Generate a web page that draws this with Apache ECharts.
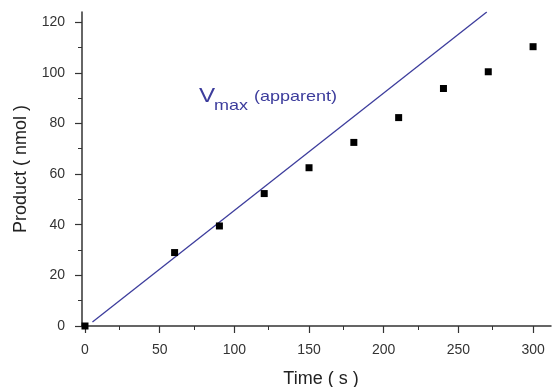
<!DOCTYPE html>
<html>
<head>
<meta charset="utf-8">
<script src="https://cdn.jsdelivr.net/npm/echarts@6/dist/echarts.min.js"></script>
<style>
  html, body { margin: 0; padding: 0; background: #fff; }
  #chart { width: 554px; height: 387px; }
</style>
</head>
<body>
<div id="chart"></div>
<script>
// measured points
var timeS = [0, 60, 90, 120, 150, 180, 210, 240, 270, 300];
var productNmol = [0, 29, 39.5, 52.3, 62.5, 72.5, 82.3, 93.8, 100.4, 110.3];
// apparent Vmax line (two end points)
var vmaxX = [5, 269];
var vmaxY = [1.6, 124];
var xTicks = [0, 50, 100, 150, 200, 250, 300];
var yTicks = [0, 20, 40, 60, 80, 100, 120];

var font = 'Liberation Sans, Arial, sans-serif';
var axisColor = '#333';
var lineColor = '#3c3c9c';

function pairs(xs, ys) {
    return xs.map(function (x, i) { return [x, ys[i]]; });
}

var myChart = echarts.init(document.getElementById('chart'));
var option = {
    backgroundColor: '#fff',
    animation: false,
    grid: {
        left: 82,
        right: 3,
        top: 12,
        bottom: 61,
        outerBoundsMode: 'none'
    },
    xAxis: {
        type: 'value',
        min: -2,
        max: 312,
        interval: 50,
        name: 'Time ( s )',
        nameLocation: 'middle',
        nameGap: 44,
        nameTextStyle: { color: '#222', fontSize: 18, fontFamily: font, padding: [0, 0, 0, 9] },
        axisLine: { show: true, onZero: false, lineStyle: { color: axisColor, width: 1.5 } },
        axisTick: { show: true, inside: false, length: 7, lineStyle: { color: axisColor, width: 1.2 },
            customValues: xTicks },
        minorTick: { show: true, splitNumber: 2, length: 4, lineStyle: { color: axisColor, width: 1 } },
        axisLabel: {
            color: '#333', fontSize: 14, fontFamily: font, margin: 17,
            customValues: xTicks
        },
        splitLine: { show: false }
    },
    yAxis: {
        type: 'value',
        min: 0,
        max: 124,
        interval: 20,
        name: 'Product ( nmol )',
        nameLocation: 'middle',
        nameGap: 52,
        nameTextStyle: { color: '#222', fontSize: 18, fontFamily: font },
        axisLine: { show: true, onZero: false, lineStyle: { color: axisColor, width: 1.5 } },
        axisTick: { show: true, inside: false, length: 7, lineStyle: { color: axisColor, width: 1.2 },
            customValues: yTicks },
        minorTick: { show: true, splitNumber: 2, length: 4, lineStyle: { color: axisColor, width: 1 } },
        axisLabel: {
            color: '#333', fontSize: 14, fontFamily: font, margin: 17,
            customValues: yTicks
        },
        splitLine: { show: false }
    },
    graphic: [
        { type: 'text', x: 199, y: 86, scaleX: 1.15,
          style: { text: 'V', fontSize: 21, fontFamily: font, fill: lineColor, verticalAlign: 'top' } },
        { type: 'text', x: 214, y: 98, scaleX: 1.2,
          style: { text: 'max', fontSize: 15, fontFamily: font, fill: lineColor, verticalAlign: 'top' } },
        { type: 'text', x: 254, y: 89, scaleX: 1.2,
          style: { text: '(apparent)', fontSize: 15, fontFamily: font, fill: lineColor, verticalAlign: 'top' } }
    ],
    series: [
        {
            type: 'line',
            data: pairs(vmaxX, vmaxY),
            showSymbol: false,
            symbol: 'none',
            lineStyle: { color: lineColor, width: 1.3 },
            z: 2
        },
        {
            type: 'scatter',
            data: pairs(timeS, productNmol),
            symbol: 'rect',
            symbolSize: 7,
            itemStyle: { color: '#000', opacity: 1 },
            z: 3
        }
    ]
};
myChart.setOption(option);
</script>
</body>
</html>
